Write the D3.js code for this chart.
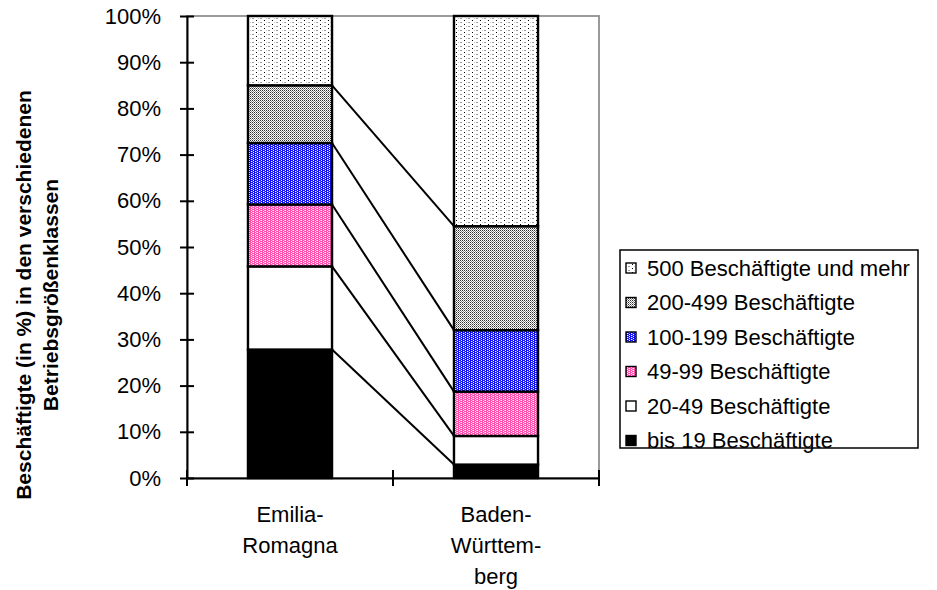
<!DOCTYPE html>
<html>
<head>
<meta charset="utf-8">
<script src="https://cdn.jsdelivr.net/npm/d3@7/dist/d3.min.js"></script>
<style>
  html, body { margin: 0; padding: 0; background: #fff; }
  svg { display: block; font-family: "Liberation Sans", Arial, sans-serif; }
</style>
</head>
<body>
<svg id="chart" width="937" height="590"></svg>
<script>
// Regions compared
const categories = ["Emilia-Romagna", "Baden-Württemberg"];
const categoryLines = [["Emilia-", "Romagna"], ["Baden-", "Württem-", "berg"]];

// Size classes, bottom of the stack first
const sizeClasses = ["bis 19 Beschäftigte", "20-49 Beschäftigte", "49-99 Beschäftigte",
                     "100-199 Beschäftigte", "200-499 Beschäftigte", "500 Beschäftigte und mehr"];

// Share of employees (%) per size class
const emiliaRomagna     = [27.8, 18.0, 13.4, 13.3, 12.5, 15.0];
const badenWuerttemberg = [2.9, 6.2, 9.6, 13.3, 22.5, 45.5];

const yTicks = [0, 0.1, 0.2, 0.3, 0.4, 0.5, 0.6, 0.7, 0.8, 0.9, 1.0];

const yTitle = ["Beschäftigte (in %) in den verschiedenen", "Betriebsgrößenklassen"];

// Table built for d3.stack
const rows = categories.map((c, i) => {
  const src = i === 0 ? emiliaRomagna : badenWuerttemberg;
  const r = { category: c };
  sizeClasses.forEach((k, j) => r[k] = src[j] / 100);
  return r;
});

const FONT = "Liberation Sans, Arial, sans-serif";
const svg = d3.select("#chart");
const plot = { left: 187, right: 599, top: 16, bottom: 478 };

const x = d3.scaleBand().domain(categories).range([plot.left, plot.right])
  .paddingInner(0.592).paddingOuter(0.296);
const y = d3.scaleLinear().domain([0, 1]).range([plot.bottom, plot.top]);

// Fill patterns for each class
const defs = svg.append("defs");
function pat(id, w, h, bg, cells) {
  const p = defs.append("pattern").attr("id", id).attr("patternUnits", "userSpaceOnUse")
    .attr("width", w).attr("height", h);
  p.append("rect").attr("width", w).attr("height", h).attr("fill", bg);
  cells.forEach(([cx, cy, col, cw, ch]) => p.append("rect")
    .attr("x", cx).attr("y", cy).attr("width", cw || 1).attr("height", ch || 1)
    .attr("fill", col).attr("shape-rendering", "crispEdges"));
  return `url(#${id})`;
}
const fills = [
  "#000000",
  "#ffffff",
  pat("pPink", 4, 2, "#ff4fae", [[1, 0, "#ffffff"], [3, 1, "#ffffff"], [0, 0, "#ff9fd6"]]),
  pat("pBlue", 4, 2, "#1010f0", [[1, 0, "#ffffff"], [3, 1, "#ffffff"], [0, 1, "#6060ff"]]),
  pat("pGray", 2, 2, "#ffffff", [[0, 0, "#303030"], [1, 1, "#8a8a8a"]]),
  pat("pDots", 8, 4, "#ffffff", [[0, 0, "#000000"], [4, 2, "#a0a0a0", 2, 1], [2, 2, "#c8c8c8"]])
];

// Plot frame (grey)
svg.append("rect").attr("x", plot.left).attr("y", plot.top)
  .attr("width", plot.right - plot.left).attr("height", plot.bottom - plot.top)
  .attr("fill", "none").attr("stroke", "#9a9a9a").attr("stroke-width", 2);

const stack = d3.stack().keys(sizeClasses);
const series = stack(rows);

// Connector lines between the stacked segment tops
const gLines = svg.append("g");
series.slice(0, series.length - 1).forEach(s => {
  gLines.append("line")
    .attr("x1", x(categories[0]) + x.bandwidth()).attr("y1", y(s[0][1]))
    .attr("x2", x(categories[1])).attr("y2", y(s[1][1]))
    .attr("stroke", "#000").attr("stroke-width", 2);
});

// Stacked bars
svg.append("g").selectAll("g").data(series).join("g")
  .attr("fill", (d, i) => fills[i])
  .selectAll("rect").data(d => d).join("rect")
  .attr("x", d => x(d.data.category))
  .attr("y", d => y(d[1]))
  .attr("width", x.bandwidth())
  .attr("height", d => y(d[0]) - y(d[1]))
  .attr("stroke", "#000").attr("stroke-width", 2.4);

// Y axis with ticks crossing the line
const yAxis = svg.append("g").attr("transform", `translate(${plot.left},0)`)
  .call(d3.axisLeft(y).tickValues(yTicks).tickFormat(d3.format(".0%"))
    .tickSizeInner(7).tickSizeOuter(0).tickPadding(19));
yAxis.select(".domain").attr("stroke", "#000").attr("stroke-width", 2);
yAxis.selectAll(".tick line").attr("x1", -7).attr("x2", 7).attr("stroke-width", 2);
yAxis.selectAll(".tick text").attr("font-size", 22).attr("fill", "#000")
  .attr("font-family", FONT);

// X axis: category labels, ticks on the category boundaries
const xAxis = svg.append("g").attr("transform", `translate(0,${plot.bottom})`)
  .call(d3.axisBottom(x).tickSize(0).tickFormat(""));
xAxis.select(".domain").attr("stroke", "#000").attr("stroke-width", 2);
const bounds = d3.range(categories.length + 1).map(i => plot.left + i * x.step());
xAxis.selectAll(".bound").data(bounds).join("line").attr("class", "bound")
  .attr("x1", d => d).attr("x2", d => d).attr("y1", -8).attr("y2", 8)
  .attr("stroke", "#000").attr("stroke-width", 2);
xAxis.selectAll(".tick").each(function (d, i) {
  const t = d3.select(this).append("text").attr("fill", "#000").attr("font-size", 22)
    .attr("text-anchor", "middle").attr("font-family", FONT);
  categoryLines[i].forEach((ln, k) => t.append("tspan").attr("x", 0)
    .attr("y", 44 + k * 31).text(ln));
});

// Y axis title
const yt = svg.append("text").attr("transform", "translate(31,295) rotate(-90)")
  .attr("text-anchor", "middle").attr("font-weight", "bold").attr("font-size", 21)
  .attr("fill", "#000");
yTitle.forEach((ln, k) => yt.append("tspan").attr("x", 0).attr("y", k * 27).text(ln));

// Legend, largest class on top
const legend = svg.append("g");
legend.append("rect").attr("x", 620).attr("y", 250).attr("width", 298).attr("height", 198)
  .attr("fill", "#fff").attr("stroke", "#000").attr("stroke-width", 1.5);
const order = d3.range(sizeClasses.length).reverse();
order.forEach((idx, r) => {
  const cy = 268 + r * 34.5;
  legend.append("rect").attr("x", 626).attr("y", cy - 5).attr("width", 10).attr("height", 10)
    .attr("fill", fills[idx]).attr("stroke", "#000").attr("stroke-width", 1.4);
  legend.append("text").attr("x", 647).attr("y", cy).attr("dy", "0.35em")
    .attr("font-size", 22).attr("fill", "#000").text(sizeClasses[idx]);
});
</script>
</body>
</html>
